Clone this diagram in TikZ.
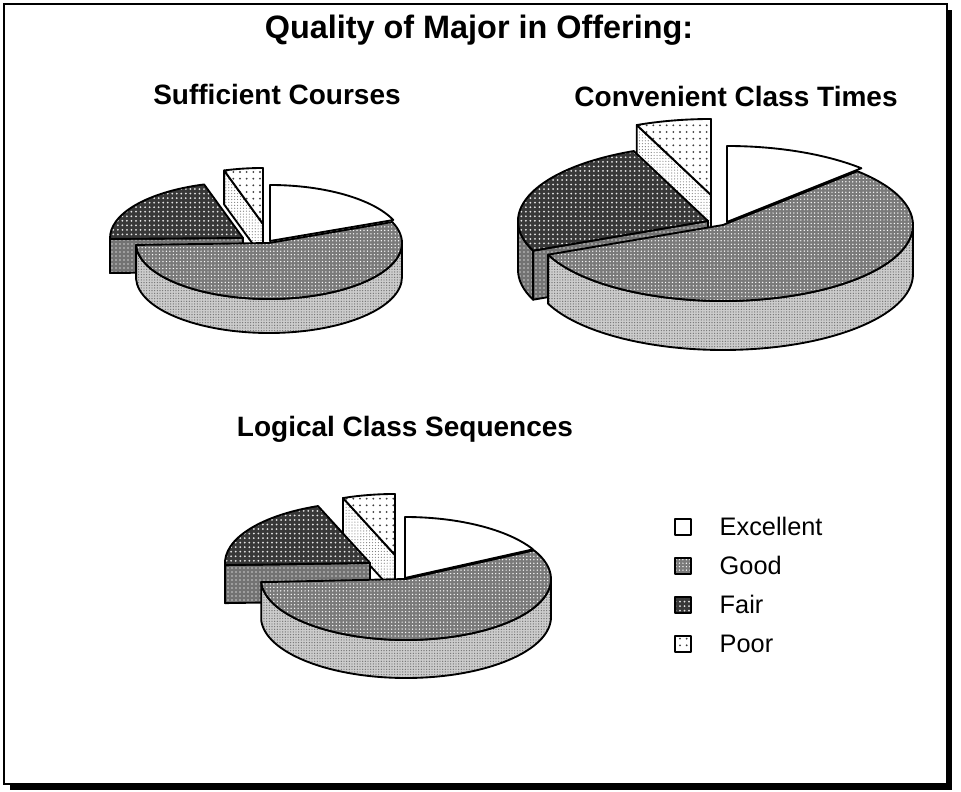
\documentclass[tikz,border=0pt]{standalone}
\usepackage{fontspec}
\setmainfont{Liberation Sans}
\usetikzlibrary{patterns.meta}

\tikzset{
  outline/.style={draw=black, line width=1.4pt, line join=round},
  exc/.style={outline, fill=white},
  goodtop/.style={outline, preaction={fill=black!52}, pattern={Dots[distance=2.6pt, radius=0.55pt]}, pattern color=white},
  goodside/.style={outline, preaction={fill=black!20}, pattern={Dots[distance=2pt, radius=0.5pt]}, pattern color=black!55},
  fairtop/.style={outline, preaction={fill=black!78}, pattern={Dots[distance=3.4pt, radius=0.75pt]}, pattern color=white!90!black},
  fairside/.style={outline, preaction={fill=black!55}, pattern={Dots[distance=3pt, radius=0.6pt]}, pattern color=black!20},
  poortop/.style={outline, preaction={fill=white}, pattern={Dots[distance=5pt, radius=0.8pt]}, pattern color=black!75},
  poorside/.style={outline, preaction={fill=white}, pattern={Dots[distance=2.2pt, radius=0.45pt]}, pattern color=black!50},
  charttitle/.style={font=\bfseries\fontsize{21}{25}\selectfont, anchor=base},
  legkey/.style={minimum size=11.5pt, inner sep=0pt, line width=1.3pt},
  legtext/.style={font=\fontsize{19}{22}\selectfont, anchor=base west},
}

% top of a slice: apex, start angle, end angle, style
\newcommand{\slicetop}[4]{%
  \path[#4, shift={(#1)}] (0,0) -- ({\rx*cos(#2)},{\ry*sin(#2)})
    arc[start angle=#2, end angle=#3, x radius=\rx, y radius=\ry] -- cycle;}
% cut face of a slice: apex, angle, style
\newcommand{\sliceface}[3]{%
  \path[#3, shift={(#1)}] (0,0) -- ({\rx*cos(#2)},{\ry*sin(#2)})
    -- ++(0,-\dep) -- (0,-\dep) -- cycle;}
% outer wall of a slice: apex, from, to, style
\newcommand{\slicewall}[4]{%
  \path[#4, shift={(#1)}] ({\rx*cos(#2)},{\ry*sin(#2)})
    arc[start angle=#2, end angle=#3, x radius=\rx, y radius=\ry]
    -- ++(0,-\dep)
    arc[start angle=#3, end angle=#2, x radius=\rx, y radius=\ry] -- cycle;}

\begin{document}
\begin{tikzpicture}[x=0.75pt, y=0.75pt]
  \useasboundingbox (0,0) rectangle (961,792);
  % frame and its shadow
  \fill (947,782) rectangle (952,2);
  \fill (10,8) rectangle (952,2);
  \draw[line width=1.5pt] (4,788) rectangle (947,8);

  \node[font=\bfseries\fontsize{24.3}{28}\selectfont, anchor=base] (title) at (479,753) {Quality of Major in Offering:};

  % Sufficient Courses
  \node[charttitle] (suff) at (277,687) {Sufficient Courses};
  \begin{scope}
    \def\rx{133}\def\ry{56}\def\dep{34}
    \sliceface{263,568}{107}{poorside}
    \slicetop{263,568}{90}{107}{poortop}
    \slicetop{270,551}{22}{90}{exc}
    \slicewall{243,554}{180}{181}{fairside}
    \sliceface{243,554}{181}{fairside}
    \slicetop{243,554}{107}{181}{fairtop}
    \slicewall{269,549}{-178}{0}{goodside}
    \slicetop{269,549}{-178}{22}{goodtop}
  \end{scope}

  % Convenient Class Times
  \node[charttitle] (conv) at (736,685) {Convenient Class Times};
  \begin{scope}
    \def\rx{190}\def\ry{76}\def\dep{49}
    \sliceface{711,597}{113}{poorside}
    \slicetop{711,597}{90}{113}{poortop}
    \slicetop{727,570}{45}{90}{exc}
    \slicewall{708,571}{180}{203}{fairside}
    \sliceface{708,571}{203}{fairside}
    \slicetop{708,571}{113}{203}{fairtop}
    \slicewall{723,567}{-157}{0}{goodside}
    \slicetop{723,567}{-157}{45}{goodtop}
  \end{scope}

  % Logical Class Sequences
  \node[charttitle] (logi) at (405,355) {Logical Class Sequences};
  \begin{scope}
    \def\rx{145}\def\ry{61}\def\dep{38}
    \sliceface{395,237}{111}{poorside}
    \slicetop{395,237}{90}{111}{poortop}
    \slicetop{405,214}{28}{90}{exc}
    \slicewall{370,229}{180}{182}{fairside}
    \sliceface{370,229}{182}{fairside}
    \slicetop{370,229}{111}{182}{fairtop}
    \slicewall{406,213}{-177}{0}{goodside}
    \slicetop{406,213}{-177}{28}{goodtop}
  \end{scope}

  % legend
  \foreach \lab/\sty [count=\i] in {Excellent/exc, Good/goodtop, Fair/fairtop, Poor/poortop}{
    \node[\sty, legkey] (key\i) at (683,{265-39*(\i-1)}) {};
    \node[legtext] (leg\i) at (715,{256-39*(\i-1)}) {\lab};
  }
\end{tikzpicture}
\end{document}
